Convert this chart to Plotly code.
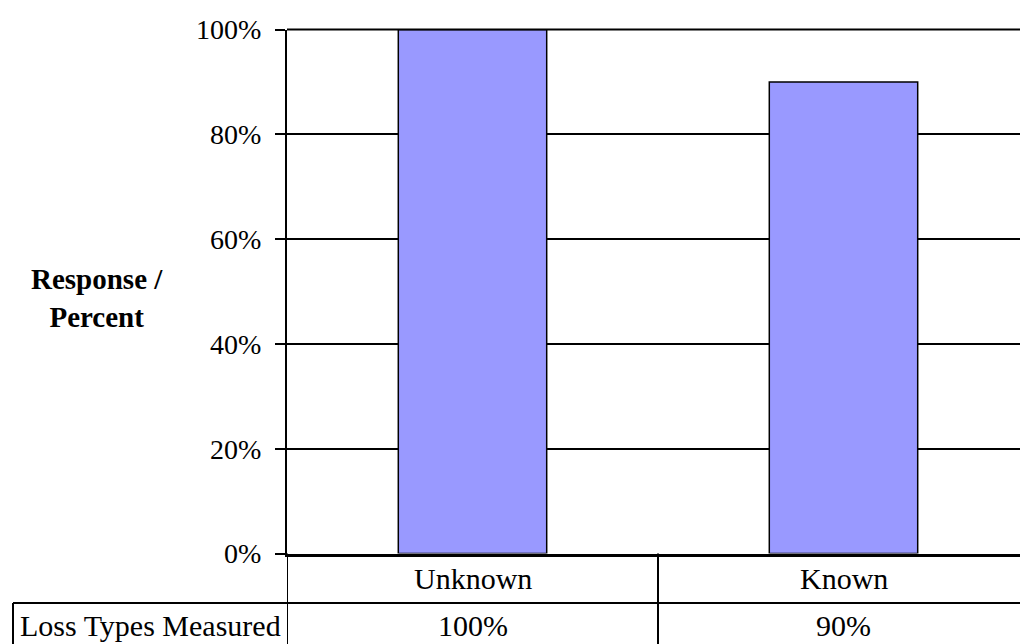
import plotly.graph_objects as go

# Survey responses per loss-type category
categories = ["Unknown", "Known"]
response_pct = [100, 90]
row_label = "Loss Types Measured"
y_ticks = [0, 20, 40, 60, 80, 100]
y_tick_text = ["0%", "20%", "40%", "60%", "80%", "100%"]

W, H = 1020, 644
FONT = "Liberation Serif, Times New Roman, serif"

# Plot area in figure pixels
left_px, top_px, bottom_px = 287, 29.5, 553.5
cat_px = 371  # width of one category cell
row1_px, table_left_px = 603, 13


def py(p):
    return 1 - p / H


def px(p):
    return p / W


x_pos = list(range(len(categories)))
x_end = -0.5 + (W - left_px) / cat_px

fig = go.Figure()
fig.add_trace(go.Bar(
    x=x_pos,
    y=response_pct,
    width=0.4,
    marker=dict(color="#9999FF", line=dict(color="black", width=1.5)),
    hoverinfo="skip",
))

shapes = []
# Top border of the plot area (gridline at the end of the value range)
shapes.append(dict(type="line", xref="paper", yref="paper",
                   x0=px(left_px), x1=1, y0=py(top_px), y1=py(top_px),
                   line=dict(color="black", width=2)))
# Category row / value row grid of the data table
shapes.append(dict(type="line", xref="paper", yref="paper",
                   x0=px(table_left_px), x1=1, y0=py(row1_px), y1=py(row1_px),
                   line=dict(color="black", width=2)))
shapes.append(dict(type="line", xref="paper", yref="paper",
                   x0=px(table_left_px), x1=px(table_left_px), y0=py(row1_px), y1=0,
                   line=dict(color="black", width=2)))
for b in [-0.5] + [i + 0.5 for i in x_pos[:-1]]:
    shapes.append(dict(type="line", xref="x", yref="paper",
                       x0=b, x1=b, y0=py(bottom_px), y1=0,
                       line=dict(color="black", width=2)))

cell_font = dict(family=FONT, size=30, color="black")
annotations = []
for xi, cat, val in zip(x_pos, categories, response_pct):
    annotations.append(dict(x=xi, y=py(578), xref="x", yref="paper",
                            xanchor="center", yanchor="middle",
                            text=cat, showarrow=False, font=cell_font))
    annotations.append(dict(x=xi, y=py(625), xref="x", yref="paper",
                            xanchor="center", yanchor="middle",
                            text=f"{val}%", showarrow=False, font=cell_font))
annotations.append(dict(x=px((table_left_px + left_px) / 2), y=py(625),
                        xref="paper", yref="paper",
                        xanchor="center", yanchor="middle",
                        text=row_label, showarrow=False, font=cell_font))
annotations.append(dict(x=px(97), y=py(298), xref="paper", yref="paper",
                        xanchor="center", yanchor="middle",
                        text="<b>Response /<br>Percent</b>", showarrow=False,
                        align="center",
                        font=dict(family=FONT, size=29, color="black")))

fig.update_layout(
    width=W, height=H,
    margin=dict(l=0, r=0, t=0, b=0, autoexpand=False),
    paper_bgcolor="white", plot_bgcolor="white",
    showlegend=False,
    bargap=0.6,
    shapes=shapes,
    annotations=annotations,
    xaxis=dict(
        domain=[px(left_px), 1],
        range=[-0.5, x_end],
        showticklabels=False, showgrid=False, zeroline=False,
        ticks="", showline=True, linecolor="black", linewidth=2.5,
        automargin=False,
        fixedrange=True,
    ),
    yaxis=dict(
        domain=[py(bottom_px), py(top_px)],
        range=[0, 100],
        tickvals=y_ticks, ticktext=y_tick_text,
        ticks="outside", ticklen=10, tickwidth=2, tickcolor="black",
        showgrid=True, gridcolor="black", gridwidth=2,
        zeroline=False,
        showline=True, linecolor="black", linewidth=2,
        tickfont=dict(family=FONT, size=28, color="black"),
        ticklabelstandoff=8,
        automargin=False,
        fixedrange=True,
    ),
)

fig.write_html("out.html", config={"displayModeBar": False})
